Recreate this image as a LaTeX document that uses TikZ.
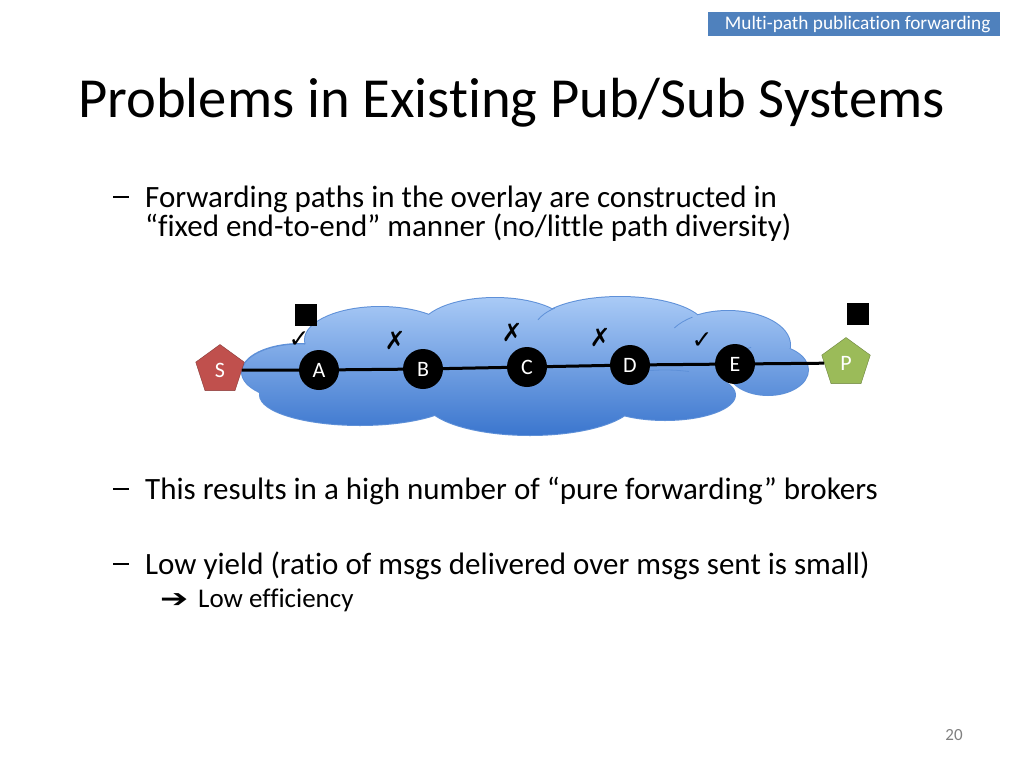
\documentclass[tikz,border=0pt]{standalone}
\usepackage{fontspec}
\setmainfont{Carlito}[Ligatures=NoCommon]
\newfontfamily\djv{DejaVu Sans}
\usetikzlibrary{shapes.geometric}
\definecolor{hdr}{HTML}{4F81BD}
\definecolor{pred}{HTML}{C0504D}
\definecolor{pgreen}{HTML}{9BBB59}
\definecolor{cloudtop}{HTML}{A9CAF6}
\definecolor{cloudbot}{HTML}{3B76CE}
\definecolor{cloudedge}{HTML}{5E90D8}
\tikzset{
  txt/.style={anchor=base west, inner sep=0pt, font=\fontsize{31}{29}\selectfont},
  broker/.style={circle, fill=black, minimum size=40pt, inner sep=0pt, text=white, font=\fontsize{22}{24}\selectfont},
  pent/.style={regular polygon, regular polygon sides=5, minimum size=51pt, inner sep=0pt, text=white, font=\fontsize{22}{24}\selectfont},
  sq/.style={fill=black, minimum size=22pt, inner sep=0pt},
  tick/.style={inner sep=0pt, font=\djv\fontsize{25}{26}\selectfont},
  inner/.style={cloudedge, line width=0.8pt},
}
\newcommand\dashmark{\raisebox{9pt}{\rule{16pt}{1.8pt}}}
\begin{document}
\begin{tikzpicture}[x=1pt,y=-1pt]
\useasboundingbox (0,0) rectangle (1024,768);
\fill[white] (0,0) rectangle (1024,768);
% header
\node[fill=hdr, minimum width=292pt, minimum height=24pt, inner sep=0pt, anchor=north west, text=white, font=\fontsize{19.3}{20}\selectfont] (hdr) at (708,12) {\hspace*{7pt}Multi-path publication forwarding\hfill};
% title
\node[anchor=base west, inner sep=0pt, font=\fontsize{56.6}{64}\selectfont] (title) at (78,117) {Problems in Existing Pub/Sub Systems};
% bullets
\node[txt] (d1) at (113,207) {\dashmark};
\node[txt] (t1) at (145,207) {Forwarding paths in the overlay are constructed in};
\node[txt] (t1b) at (145,236) {“fixed end-to-end” manner (no/little path diversity)};
\node[txt] (d2) at (113,499) {\dashmark};
\node[txt] (t2) at (145,499) {This results in a high number of “pure forwarding” brokers};
\node[txt] (d3) at (113,574) {\dashmark};
\node[txt] (t3) at (145,574) {Low yield (ratio of msgs delivered over msgs sent is small)};
\node[anchor=base west, inner sep=0pt, font=\djv\fontsize{21}{24}\selectfont] (arr) at (160,607) {\scalebox{1.6}[1.2]{➔}};
\node[anchor=base west, inner sep=0pt, font=\fontsize{27}{28}\selectfont] (t4) at (198,607) {Low efficiency};
% page number
\node[anchor=base, inner sep=0pt, text=gray, font=\fontsize{17}{18}\selectfont] (pg) at (954,740) {20};
% cloud
\def\cloudpath{
  (300,372) ellipse [x radius=58, y radius=28]
  (380,340) ellipse [x radius=75, y radius=33]
  (495,330) ellipse [x radius=75, y radius=32]
  (620,328) ellipse [x radius=85, y radius=31]
  (728,345) ellipse [x radius=62, y radius=34]
  (768,370) ellipse [x radius=40, y radius=25]
  (360,395) ellipse [x radius=100, y radius=30]
  (530,400) ellipse [x radius=105, y radius=35]
  (665,395) ellipse [x radius=70, y radius=25]
  (520,365) ellipse [x radius=220, y radius=45]
}
\draw[cloudedge, line width=2pt] \cloudpath;
\shade[top color=cloudtop, bottom color=cloudbot] \cloudpath;
\draw[inner] (300,372) ++(-172:58 and 28) arc[start angle=-172, end angle=-85, x radius=58, y radius=28];
\draw[inner] (665,395) ++(-125:70 and 25) arc[start angle=-125, end angle=-70, x radius=70, y radius=25];
\draw[inner] (768,370) ++(-175:40 and 25) arc[start angle=-175, end angle=-115, x radius=40, y radius=25];
\draw[inner] (620,328) ++(-165:85 and 31) arc[start angle=-165, end angle=-140, x radius=85, y radius=31];
\draw[inner] (728,345) ++(-150:62 and 34) arc[start angle=-150, end angle=-125, x radius=62, y radius=34];
% nodes
\node[pent, fill=pred, draw=pred!70!black] (S) at (220,370) {S};
\node[pent, fill=pgreen, draw=pgreen!70!black] (P) at (846,363) {P};
\node[broker] (A) at (319,370) {A};
\node[broker] (B) at (423,369) {B};
\node[broker] (C) at (527,367) {C};
\node[broker] (D) at (630,365) {D};
\node[broker] (E) at (735,364) {E};
\draw[line width=3pt] (S) -- (A) -- (B) -- (C) -- (D) -- (E) -- (P);
% squares and marks
\node[tick] (m1) at (299,340) {✓};
\node[sq] (sq1) at (306,315) {};
\node[sq] (sq2) at (858,314) {};
\node[tick] (m2) at (395,340) {✗};
\node[tick] (m3) at (512,332) {✗};
\node[tick] (m4) at (600,337) {✗};
\node[tick] (m5) at (702,341) {✓};
\end{tikzpicture}
\end{document}
